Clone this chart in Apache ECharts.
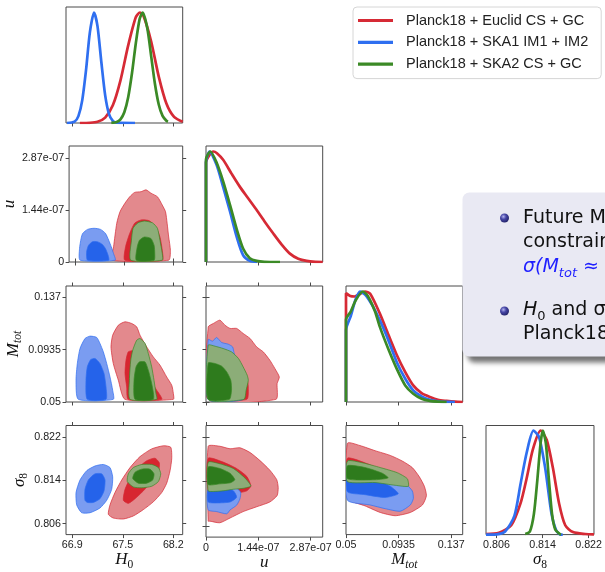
<!DOCTYPE html>
<html><head><meta charset="utf-8">
<script src="https://cdn.jsdelivr.net/npm/echarts@6/dist/echarts.min.js"></script>
<style>html,body{margin:0;padding:0;background:#fff}#c{width:605px;height:572px}</style>
</head><body><div id="c"></div><script>
// ---------- names & colours ----------
const seriesNames = ['Planck18 + Euclid CS + GC', 'Planck18 + SKA1 IM1 + IM2', 'Planck18 + SKA2 CS + GC'];
const lineColors = ['#d62a35', '#2f6ff0', '#3b8a26'];
const outerFill = ['#e3898d', '#7a9cf1', '#8cad78'];
const innerFill = ['#d72630', '#2563ea', '#2e7b1d'];

// ---------- ticks ----------
const H0Ticks = [66.87, 67.53, 68.19], H0Labels = ['66.9', '67.5', '68.2'];
const uTicks = [0, 1.435, 2.87], uLabels = ['0', '1.44e-07', '2.87e-07']; // u in units of 1e-7
const MTicks = [0.05, 0.0935, 0.137], MLabels = ['0.05', '0.0935', '0.137'];
const s8Ticks = [0.806, 0.814, 0.822], s8Labels = ['0.806', '0.814', '0.822'];

// ---------- 1D marginals (normalised) ----------
const H0_red = [[66.97,0],[67.10,0.002],[67.20,0.011],[67.30,0.049],[67.40,0.16],[67.50,0.386],[67.60,0.70],[67.70,0.957],[67.755,1],[67.80,0.97],[67.90,0.74],[68.00,0.42],[68.10,0.176],[68.20,0.055],[68.313,0.011]];
const H0_blue = [[66.80,0],[66.90,0.013],[66.95,0.062],[67.00,0.205],[67.05,0.48],[67.10,0.82],[67.155,1],[67.20,0.875],[67.25,0.55],[67.30,0.25],[67.35,0.081],[67.40,0.019],[67.45,0.003],[67.69,0]];
const H0_green = [[67.38,0.001],[67.45,0.009],[67.50,0.033],[67.55,0.097],[67.60,0.23],[67.65,0.45],[67.70,0.72],[67.75,0.94],[67.79,1],[67.85,0.86],[67.90,0.61],[67.95,0.355],[68.00,0.167],[68.05,0.064],[68.10,0.02],[68.12,0.012]];

const u_red = [[0,0],[0,0.9],[0.1,0.97],[0.2,1.0],[0.3,0.985],[0.47,0.925],[0.7,0.8],[0.93,0.68],[1.16,0.575],[1.39,0.47],[1.62,0.36],[1.84,0.26],[2.07,0.16],[2.30,0.076],[2.53,0.03],[2.76,0.01],[3.0,0.002],[3.2,0]];
const u_blue = [[0,0],[0,0.9],[0.1,1.0],[0.29,0.88],[0.47,0.68],[0.66,0.455],[0.84,0.23],[1.02,0.06],[1.2,0.01],[1.4,0]];
const u_green = [[0,0],[0,0.93],[0.12,1.0],[0.29,0.9],[0.47,0.73],[0.66,0.515],[0.84,0.30],[1.02,0.12],[1.2,0.035],[1.39,0.01],[1.6,0.002],[2.03,0]];

const M_red = [[0.05,0],[0.05,0.985],[0.0535,0.96],[0.057,0.955],[0.061,0.975],[0.0657,1.0],[0.070,0.98],[0.078,0.80],[0.085,0.61],[0.092,0.425],[0.099,0.27],[0.1056,0.15],[0.1125,0.08],[0.1194,0.045],[0.126,0.02],[0.1332,0.01],[0.14,0.003],[0.1465,0]];
const M_blue = [[0.05,0],[0.05,0.65],[0.054,0.78],[0.058,0.93],[0.0616,1.0],[0.066,0.97],[0.072,0.87],[0.078,0.74],[0.085,0.56],[0.092,0.36],[0.099,0.21],[0.1056,0.105],[0.1125,0.05],[0.1194,0.02],[0.126,0.006],[0.1332,0.001],[0.14,0]];
const M_green = [[0.05,0],[0.05,0.745],[0.054,0.82],[0.058,0.92],[0.0638,1.0],[0.068,0.96],[0.074,0.82],[0.078,0.68],[0.085,0.48],[0.092,0.30],[0.099,0.15],[0.1056,0.075],[0.1125,0.03],[0.1194,0.01],[0.126,0.003],[0.1332,0]];

const s8_red = [[0.80418,0.006],[0.80643,0.018],[0.80857,0.09],[0.81017,0.3],[0.81125,0.545],[0.81232,0.82],[0.81366,1.0],[0.81473,0.91],[0.81580,0.64],[0.81687,0.3],[0.81794,0.09],[0.81928,0.024],[0.82142,0.006],[0.82293,0.003]];
const s8_blue = [[0.80418,0],[0.8060,0.003],[0.8075,0.03],[0.80911,0.18],[0.81017,0.485],[0.81125,0.79],[0.81242,1.0],[0.81338,0.94],[0.81446,0.64],[0.81553,0.21],[0.81634,0.045],[0.81714,0],[0.8175,0]];
const s8_green = [[0.8110,0.005],[0.8118,0.03],[0.8125,0.2],[0.8131,0.53],[0.81366,0.88],[0.81405,1.0],[0.81457,0.88],[0.8151,0.53],[0.81564,0.2],[0.8162,0.05],[0.8170,0.005],[0.8172,0]];

// ---------- 2D contours (outer = 95%, inner = 68%) ----------
// H0 - u
const hu_red_o = [[67.363,0.05],[67.385,0.42],[67.428,1.07],[67.472,1.39],[67.537,1.62],[67.602,1.80],[67.668,1.92],[67.755,1.94],[67.821,1.99],[67.886,1.90],[67.974,1.80],[68.039,1.57],[68.082,1.39],[68.104,1.07],[68.125,0.69],[68.148,0.32],[68.125,0.05]];
const hu_red_i = [[67.537,0.05],[67.546,0.42],[67.602,0.79],[67.668,1.07],[67.755,1.16],[67.864,1.14],[67.951,0.97],[68.008,0.69],[68.039,0.32],[68.039,0.05]];
const hu_blue_o = [[66.936,0.05],[66.928,0.37],[66.949,0.65],[66.971,0.79],[67.036,0.90],[67.124,0.93],[67.210,0.90],[67.276,0.79],[67.320,0.60],[67.354,0.42],[67.385,0.23],[67.406,0.05]];
const hu_blue_i = [[67.036,0.05],[67.023,0.28],[67.049,0.46],[67.102,0.56],[67.167,0.56],[67.232,0.49],[67.276,0.37],[67.311,0.19],[67.320,0.05]];
const hu_green_o = [[67.616,0.05],[67.625,0.60],[67.647,0.93],[67.712,1.08],[67.798,1.13],[67.908,1.08],[67.974,0.93],[68.008,0.60],[68.039,0.23],[68.039,0.05]];
const hu_green_i = [[67.690,0.05],[67.703,0.42],[67.733,0.60],[67.798,0.69],[67.886,0.65],[67.929,0.46],[67.938,0.23],[67.929,0.05]];
// H0 - Mtot
const hm_red_o = [[67.559,0.0522],[67.472,0.0681],[67.406,0.0820],[67.376,0.0958],[67.398,0.1056],[67.472,0.1139],[67.559,0.1167],[67.647,0.1153],[67.712,0.1125],[67.755,0.1056],[67.843,0.0958],[67.929,0.0875],[68.017,0.0806],[68.104,0.0708],[68.170,0.0639],[68.191,0.0570],[68.191,0.0522]];
const hm_red_i = [[67.602,0.0522],[67.581,0.0625],[67.559,0.0737],[67.572,0.0848],[67.602,0.0917],[67.668,0.0925],[67.712,0.0848],[67.798,0.0764],[67.886,0.0681],[67.974,0.0598],[68.039,0.0522]];
const hm_blue_o = [[66.949,0.0522],[66.919,0.0681],[66.936,0.0820],[66.971,0.0945],[67.036,0.1028],[67.102,0.1048],[67.189,0.1037],[67.232,0.0987],[67.276,0.0917],[67.320,0.0820],[67.363,0.0708],[67.398,0.0598],[67.406,0.0522]];
const hm_blue_i = [[67.066,0.0522],[67.049,0.0681],[67.066,0.0792],[67.111,0.0853],[67.167,0.0862],[67.232,0.0820],[67.285,0.0737],[67.311,0.0625],[67.311,0.0522]];
const hm_green_o = [[67.625,0.0522],[67.616,0.0681],[67.634,0.0848],[67.660,0.0931],[67.712,0.1014],[67.755,0.1028],[67.821,0.0987],[67.864,0.0903],[67.908,0.0792],[67.938,0.0681],[67.964,0.0570],[67.974,0.0522]];
const hm_green_i = [[67.690,0.0522],[67.677,0.0681],[67.703,0.0792],[67.746,0.0833],[67.821,0.0833],[67.864,0.0764],[67.908,0.0653],[67.929,0.0522]];
// H0 - sigma8
const hs_red_o = [[67.341,0.80773],[67.363,0.80946],[67.428,0.81175],[67.516,0.81407],[67.625,0.81637],[67.755,0.81839],[67.908,0.81982],[68.060,0.82039],[68.157,0.82012],[68.170,0.81810],[68.148,0.81580],[68.104,0.81348],[68.039,0.81175],[67.929,0.81003],[67.798,0.80859],[67.668,0.80743],[67.537,0.80686],[67.406,0.80704]];
const hs_red_i = [[67.537,0.81032],[67.559,0.81234],[67.625,0.81434],[67.712,0.81607],[67.843,0.81763],[67.951,0.81810],[68.008,0.81723],[67.995,0.81550],[67.908,0.81378],[67.798,0.81205],[67.690,0.81061],[67.602,0.80975]];
const hs_blue_o = [[66.928,0.80946],[66.919,0.81175],[66.971,0.81407],[67.059,0.81580],[67.167,0.81666],[67.276,0.81694],[67.363,0.81637],[67.398,0.81464],[67.385,0.81234],[67.320,0.81032],[67.232,0.80889],[67.102,0.80802],[66.993,0.80802]];
const hs_blue_i = [[67.036,0.81032],[67.036,0.81234],[67.080,0.81407],[67.167,0.81521],[67.255,0.81521],[67.298,0.81407],[67.285,0.81205],[67.232,0.81061],[67.145,0.80992],[67.066,0.80992]];
const hs_green_o = [[67.589,0.81378],[67.602,0.81521],[67.668,0.81637],[67.777,0.81694],[67.908,0.81694],[67.995,0.81637],[68.026,0.81521],[67.995,0.81378],[67.908,0.81291],[67.777,0.81262],[67.668,0.81279]];
const hs_green_i = [[67.660,0.81434],[67.690,0.81550],[67.777,0.81607],[67.886,0.81607],[67.938,0.81521],[67.921,0.81407],[67.843,0.81348],[67.733,0.81348]];
// u - Mtot
const um_red_o = [[0.06,0.0522],[0.06,0.1125],[0.2,0.1153],[0.38,0.1181],[0.52,0.1139],[0.66,0.1112],[0.84,0.1112],[1.02,0.1070],[1.21,0.1028],[1.39,0.0958],[1.57,0.0917],[1.75,0.0848],[1.89,0.0778],[2.01,0.0708],[1.95,0.0653],[1.92,0.0522]];
const um_red_i = [[0.06,0.0522],[0.06,0.0792],[0.2,0.0820],[0.47,0.0848],[0.75,0.0833],[0.98,0.0792],[1.12,0.0708],[1.16,0.0625],[1.12,0.0522]];
const um_blue_o = [[0.06,0.0522],[0.06,0.1020],[0.18,0.1006],[0.29,0.1037],[0.43,0.0995],[0.61,0.0981],[0.73,0.0958],[0.77,0.0908],[0.89,0.0806],[0.98,0.0681],[1.02,0.0522]];
const um_blue_i = [[0.06,0.0522],[0.06,0.0848],[0.29,0.0875],[0.52,0.0848],[0.66,0.0764],[0.75,0.0653],[0.75,0.0522]];
const um_green_o = [[0.06,0.0522],[0.06,0.0973],[0.25,0.0964],[0.47,0.0945],[0.70,0.0917],[0.89,0.0862],[1.02,0.0792],[1.13,0.0723],[1.16,0.0681],[1.10,0.0598],[1.04,0.0522]];
const um_green_i = [[0.06,0.0522],[0.06,0.0825],[0.25,0.0820],[0.43,0.0798],[0.57,0.0750],[0.68,0.0681],[0.70,0.0598],[0.64,0.0522]];
// u - sigma8
const us_red_o = [[0.06,0.82039],[0.38,0.82039],[0.66,0.81994],[0.93,0.82012],[1.21,0.81925],[1.48,0.81780],[1.75,0.81607],[1.94,0.81435],[1.98,0.81291],[1.95,0.81148],[1.75,0.81032],[1.39,0.80946],[1.02,0.80859],[0.66,0.80743],[0.38,0.80657],[0.11,0.80686],[0.06,0.80686]];
const us_red_i = [[0.06,0.81822],[0.47,0.81753],[0.84,0.81637],[1.12,0.81493],[1.23,0.81320],[1.12,0.81234],[0.93,0.81205],[0.66,0.81234],[0.38,0.81262],[0.06,0.81262]];
const us_blue_o = [[0.06,0.81234],[0.47,0.81262],[0.84,0.81279],[0.95,0.81205],[0.93,0.81089],[0.84,0.80975],[0.66,0.80889],[0.57,0.80819],[0.29,0.80859],[0.06,0.80889]];
const us_blue_i = [[0.06,0.81262],[0.47,0.81279],[0.75,0.81234],[0.84,0.81118],[0.66,0.81032],[0.29,0.81015],[0.06,0.81032]];
const us_green_o = [[0.06,0.81752],[0.38,0.81723],[0.75,0.81637],[1.07,0.81464],[1.23,0.81320],[1.02,0.81279],[0.75,0.81262],[0.47,0.81234],[0.2,0.81222],[0.06,0.81234]];
const us_green_i = [[0.06,0.81666],[0.38,0.81637],[0.66,0.81550],[0.79,0.81435],[0.66,0.81378],[0.38,0.81360],[0.06,0.81348]];
// Mtot - sigma8
const ms_red_o = [[0.0512,0.82086],[0.0616,0.82043],[0.0741,0.81948],[0.0866,0.81861],[0.0965,0.81758],[0.1048,0.81637],[0.1107,0.81465],[0.1148,0.81291],[0.1165,0.81118],[0.1132,0.80946],[0.1032,0.80807],[0.0907,0.80747],[0.0783,0.80807],[0.0658,0.80928],[0.0512,0.81067]];
const ms_red_i = [[0.0512,0.81810],[0.0658,0.81723],[0.0824,0.81550],[0.0907,0.81378],[0.0824,0.81326],[0.0658,0.81360],[0.0512,0.81378]];
const ms_blue_o = [[0.0512,0.81723],[0.0699,0.81637],[0.0866,0.81499],[0.0990,0.81343],[0.1048,0.81205],[0.1057,0.81067],[0.1032,0.80946],[0.0949,0.80830],[0.0824,0.80877],[0.0699,0.80946],[0.0512,0.81032]];
const ms_blue_i = [[0.0512,0.81550],[0.0699,0.81464],[0.0866,0.81291],[0.0932,0.81153],[0.0824,0.81084],[0.0658,0.81136],[0.0512,0.81188]];
const ms_green_o = [[0.0512,0.81758],[0.0641,0.81723],[0.0783,0.81637],[0.0924,0.81542],[0.1007,0.81430],[0.1015,0.81291],[0.0907,0.81309],[0.0741,0.81360],[0.0512,0.81378]];
const ms_green_i = [[0.0512,0.81671],[0.0658,0.81637],[0.0799,0.81533],[0.0849,0.81447],[0.0741,0.81412],[0.0512,0.81429]];

// ---------- layout ----------
const colLeft = [66, 206, 346, 486], rowTop = [7, 146, 286, 425.5], PW = 116.7, PH = 116;
const FRAME = '#4a4a4a';
const TICKFONT = 'Liberation Sans';
const SERIF = 'Liberation Serif';

const nameRich = {
  i: {fontFamily: SERIF, fontStyle: 'italic', fontSize: 17, lineHeight: 22, verticalAlign: 'middle', color: '#111'},
  si: {fontFamily: SERIF, fontStyle: 'italic', fontSize: 11.5, lineHeight: 11, verticalAlign: 'bottom', color: '#111'},
  s: {fontFamily: SERIF, fontSize: 11.5, lineHeight: 11, verticalAlign: 'bottom', color: '#111'}
};
const AX = {
  H0: {min: 66.788, max: 68.313, ticks: H0Ticks, labels: H0Labels, name: '{i|H}{s|0}', yGap: 0},
  u: {min: 0, max: 3.2, ticks: uTicks, labels: uLabels, name: '{i|u}', yGap: 47},
  M: {min: 0.05, max: 0.1465, ticks: MTicks, labels: MLabels, name: '{i|M}{si|tot}', yGap: 38},
  s8: {min: 0.80398, max: 0.82414, ticks: s8Ticks, labels: s8Labels, name: '{i|σ}{s|8}', yGap: 33},
  s8x: {min: 0.80418, max: 0.82293, ticks: s8Ticks, labels: s8Labels, name: '{i|σ}{s|8}', yGap: 33}
};

function fmt(ticks, labels) {
  return function (v) {
    for (let i = 0; i < ticks.length; i++) if (Math.abs(v - ticks[i]) < 1e-6) return labels[i];
    return '';
  };
}
function axisDef(gi, pos, a, showLabel, showName, isY) {
  return {
    gridIndex: gi, type: 'value', position: pos, min: a.min, max: a.max,
    axisLine: {show: false}, splitLine: {show: false},
    axisTick: {show: true, inside: false, length: 3.5, customValues: a.ticks, lineStyle: {color: FRAME, width: 1}},
    axisLabel: {show: showLabel, customValues: a.ticks, formatter: fmt(a.ticks, a.labels), margin: 5,
      fontFamily: TICKFONT, fontSize: 10.7, color: '#222', showMinLabel: true, showMaxLabel: true},
    name: showName ? a.name : '', nameLocation: 'middle', nameGap: isY ? a.yGap : 9,
    nameTextStyle: {rich: nameRich}
  };
}

const grids = [], xAxes = [], yAxes = [], series = [];
function addPanel(r, c, xk, yk) {
  const gi = grids.length;
  grids.push({left: colLeft[c], top: rowTop[r], width: PW, height: PH, show: true,
    borderColor: FRAME, borderWidth: 1, backgroundColor: 'transparent'});
  const xi = xAxes.length;
  xAxes.push(axisDef(gi, 'bottom', AX[xk], r === 3, r === 3, false));
  const yi = yAxes.length;
  if (yk) {
    xAxes.push(axisDef(gi, 'top', AX[xk], false, false, false));
    yAxes.push(axisDef(gi, 'left', AX[yk], c === 0, c === 0, true));
    yAxes.push(axisDef(gi, 'right', AX[yk], false, false, true));
  } else {
    yAxes.push({gridIndex: gi, type: 'value', min: 0, max: 1.05, show: false});
  }
  return {x: xi, y: yi};
}
function addLines(ax, curves) {
  curves.forEach((d, k) => series.push({
    type: 'line', name: seriesNames[k], xAxisIndex: ax.x, yAxisIndex: ax.y, data: d,
    showSymbol: false, smooth: 0.25, silent: true, z: 3 + k,
    lineStyle: {color: lineColors[k], width: 2.7}, itemStyle: {color: lineColors[k]}
  }));
}
function addContours(ax, sets) {
  sets.forEach((pair, k) => {
    pair.forEach((pts, lvl) => series.push({
      type: 'custom', name: 'contour', xAxisIndex: ax.x, yAxisIndex: ax.y, data: pts, silent: true,
      z: 2, clip: true,
      renderItem: function (params, api) {
        if (params.dataIndex !== 0) return null;
        return {type: 'polygon', shape: {points: pts.map(p => api.coord(p)), smooth: 0.2},
          style: {fill: lvl === 0 ? outerFill[k] : innerFill[k], stroke: lineColors[k], lineWidth: 0.7}};
      }
    }));
  });
}

// diagonal panels
addLines(addPanel(0, 0, 'H0', null), [H0_red, H0_blue, H0_green]);
addLines(addPanel(1, 1, 'u', null), [u_red, u_blue, u_green]);
addLines(addPanel(2, 2, 'M', null), [M_red, M_blue, M_green]);
addLines(addPanel(3, 3, 's8x', null), [s8_red, s8_blue, s8_green]);
// 2D panels
addContours(addPanel(1, 0, 'H0', 'u'), [[hu_red_o, hu_red_i], [hu_blue_o, hu_blue_i], [hu_green_o, hu_green_i]]);
addContours(addPanel(2, 0, 'H0', 'M'), [[hm_red_o, hm_red_i], [hm_blue_o, hm_blue_i], [hm_green_o, hm_green_i]]);
addContours(addPanel(2, 1, 'u', 'M'), [[um_red_o, um_red_i], [um_blue_o, um_blue_i], [um_green_o, um_green_i]]);
addContours(addPanel(3, 0, 'H0', 's8'), [[hs_red_o, hs_red_i], [hs_blue_o, hs_blue_i], [hs_green_o, hs_green_i]]);
addContours(addPanel(3, 1, 'u', 's8'), [[us_red_o, us_red_i], [us_blue_o, us_blue_i], [us_green_o, us_green_i]]);
addContours(addPanel(3, 2, 'M', 's8'), [[ms_red_o, ms_red_i], [ms_blue_o, ms_blue_i], [ms_green_o, ms_green_i]]);

// ---------- slide overlay (beamer block) ----------
const BOXFONT = 'DejaVu Sans';
const ballFill = {type: 'radial', x: 0.38, y: 0.35, r: 0.75,
  colorStops: [{offset: 0, color: '#b4b4ee'}, {offset: 0.4, color: '#4646a6'}, {offset: 1, color: '#1c1c5c'}]};
const boxRich = {
  ni: {fontFamily: BOXFONT, fontSize: 19, fontStyle: 'italic', fill: '#111', lineHeight: 26, verticalAlign: 'middle'},
  ns: {fontFamily: BOXFONT, fontSize: 13, fill: '#111', lineHeight: 14, verticalAlign: 'bottom'},
  nm: {fontFamily: BOXFONT, fontSize: 19, fill: '#111', lineHeight: 26, verticalAlign: 'middle'},
  b: {fontFamily: BOXFONT, fontSize: 19, fontStyle: 'italic', fill: '#1f1fff', lineHeight: 26, verticalAlign: 'middle'},
  bs: {fontFamily: BOXFONT, fontSize: 13, fontStyle: 'italic', fill: '#1f1fff', lineHeight: 14, verticalAlign: 'bottom'}
};
const graphic = [
  {type: 'rect', z: 100, shape: {x: 462.5, y: 192.5, width: 200, height: 164, r: 7},
    style: {fill: '#e9e9f3', shadowBlur: 5, shadowOffsetX: 5, shadowOffsetY: 6, shadowColor: 'rgba(0,0,0,0.55)'}},
  {type: 'circle', z: 101, shape: {cx: 504.5, cy: 218, r: 4.5}, style: {fill: ballFill}},
  {type: 'circle', z: 101, shape: {cx: 504.5, cy: 311, r: 4.5}, style: {fill: ballFill}},
  {type: 'text', z: 101, style: {x: 523, y: 218, text: 'Future MG surveys will', font: '19px "DejaVu Sans"', fill: '#111', verticalAlign: 'middle'}},
  {type: 'text', z: 101, style: {x: 523, y: 242, text: 'constraining', font: '19px "DejaVu Sans"', fill: '#111', verticalAlign: 'middle'}},
  {type: 'text', z: 101, style: {x: 523, y: 267, text: '{b|σ(M}{bs|tot}{b| ≈ 0.01 eV)}', rich: boxRich, verticalAlign: 'middle'}},
  {type: 'text', z: 101, style: {x: 523, y: 310, text: '{ni|H}{ns|0}{nm| and σ}{ns|8}{nm| tension}', rich: boxRich, verticalAlign: 'middle'}},
  {type: 'text', z: 101, style: {x: 523, y: 334, text: 'Planck18 results', font: '19px "DejaVu Sans"', fill: '#111', verticalAlign: 'middle'}}
];

const chart = echarts.init(document.getElementById('c'), null, {renderer: 'canvas'});
chart.setOption({
  animation: false,
  backgroundColor: '#ffffff',
  grid: grids, xAxis: xAxes, yAxis: yAxes, series: series,
  legend: {
    data: seriesNames, orient: 'vertical', left: 353, top: 7,
    padding: [6, 13, 7, 5], itemGap: 6.8, itemWidth: 35, itemHeight: 3.2, icon: 'rect',
    backgroundColor: '#ffffff', borderColor: '#d6d6d6', borderWidth: 1, borderRadius: 4,
    formatter: n => '  ' + n,
    textStyle: {fontFamily: TICKFONT, fontSize: 14.5, lineHeight: 15, color: '#222'}
  },
  graphic: graphic
});
</script></body></html>
